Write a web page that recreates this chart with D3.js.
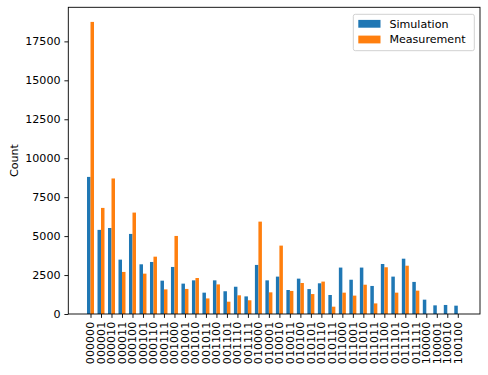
<!DOCTYPE html>
<html>
<head>
  <title>Counts</title>
  <meta charset="utf-8">
  <script src="https://d3js.org/d3.v7.min.js"></script>
  <style>
    body { margin: 0; background: #fff; }
    text { font-family: "DejaVu Sans", sans-serif; }
  </style>
</head>
<body>
  <script>
    const labels = ["000000", "000001", "000010", "000011", "000100", "000101", "000110", "000111",
      "001000", "001001", "001010", "001011", "001100", "001101", "001110", "001111",
      "010000", "010001", "010010", "010011", "010100", "010101", "010110", "010111",
      "011000", "011001", "011010", "011011", "011100", "011101", "011110", "011111",
      "100000", "100001", "100010", "100100"];

    const simulation = [8800, 5400, 5520, 3490, 5140, 3190, 3340, 2140, 3020, 1950, 2160, 1370,
      2160, 1460, 1750, 1130, 3150, 2160, 2400, 1540, 2270, 1600, 1970, 1220,
      2980, 2200, 2980, 1800, 3210, 2400, 3550, 2060, 920, 555, 580, 535];

    const measurement = [18750, 6810, 8700, 2700, 6510, 2590, 3680, 1580, 5010, 1610, 2310, 1000,
      1900, 790, 1200, 880, 5930, 1390, 4390, 1480, 1990, 1280, 2080, 470,
      1370, 1180, 1880, 680, 3000, 1370, 3100, 1500, 0, 0, 0, 0];

    const seriesNames = ["Simulation", "Measurement"];
    const colors = ["#1f77b4", "#ff7f0e"];
    const yTicks = [0, 2500, 5000, 7500, 10000, 12500, 15000, 17500];

    var width = 488, height = 375;
    var margin = {top: 7.3, right: 8, bottom: 61, left: 68.3};
    var fs = 11.1; // 10pt at this scale

    var svg = d3.select("body").append("svg")
      .attr("width", width)
      .attr("height", height);

    // matplotlib style limits: bars from -1/3 to n-1+1/3 plus 5% margin
    var bw = 1 / 3;
    var span = (labels.length - 1) + 2 * bw;
    var x = d3.scaleLinear()
      .domain([-bw - 0.05 * span, labels.length - 1 + bw + 0.05 * span])
      .range([margin.left, width - margin.right]);

    var maxVal = d3.max([d3.max(simulation), d3.max(measurement)]);
    var y = d3.scaleLinear()
      .domain([0, maxVal * 1.05])
      .range([height - margin.bottom, margin.top]);

    var series = [simulation, measurement];

    series.forEach(function(vals, s) {
      svg.append("g")
        .selectAll("rect")
        .data(vals)
        .join("rect")
          .attr("x", (d, i) => x(i - bw + s * bw))
          .attr("width", (d, i) => x(i + s * bw) - x(i - bw + s * bw))
          .attr("y", d => y(d))
          .attr("height", d => y(0) - y(d))
          .attr("fill", colors[s]);
    });

    // x axis
    var xAxis = svg.append("g")
      .attr("transform", `translate(0,${height - margin.bottom})`)
      .call(d3.axisBottom(x)
        .tickValues(d3.range(labels.length))
        .tickFormat(i => labels[i])
        .tickSize(3.9)
        .tickPadding(3.9));
    xAxis.select(".domain").remove();
    xAxis.selectAll(".tick line").attr("stroke", "#000").attr("stroke-width", 0.9);
    xAxis.selectAll(".tick text")
      .attr("fill", "#000")
      .style("font-size", fs + "px")
      .attr("text-anchor", "end")
      .attr("transform", "rotate(-90)")
      .attr("x", -7.8)
      .attr("y", 0)
      .attr("dy", "0.3em");

    // y axis
    var yAxis = svg.append("g")
      .attr("transform", `translate(${margin.left},0)`)
      .call(d3.axisLeft(y)
        .tickValues(yTicks)
        .tickFormat(d3.format("d"))
        .tickSize(3.9)
        .tickPadding(3.9));
    yAxis.select(".domain").remove();
    yAxis.selectAll(".tick line").attr("stroke", "#000").attr("stroke-width", 0.9);
    yAxis.selectAll(".tick text")
      .attr("fill", "#000")
      .style("font-size", fs + "px");

    // frame
    svg.append("rect")
      .attr("x", margin.left)
      .attr("y", margin.top)
      .attr("width", width - margin.right - margin.left)
      .attr("height", height - margin.bottom - margin.top)
      .attr("fill", "none")
      .attr("stroke", "#000")
      .attr("stroke-width", 0.9);

    svg.append("text")
      .attr("transform", `translate(18.2,${(margin.top + height - margin.bottom) / 2}) rotate(-90)`)
      .attr("text-anchor", "middle")
      .style("font-size", fs + "px")
      .text("Count");

    // legend
    var legend = svg.append("g").attr("transform", "translate(353.3,14.3)");
    legend.append("rect")
      .attr("width", 121)
      .attr("height", 36.4)
      .attr("rx", 2)
      .attr("fill", "#fff")
      .attr("fill-opacity", 0.8)
      .attr("stroke", "#ccc")
      .attr("stroke-width", 0.9);

    var item = legend.selectAll(".item")
      .data(seriesNames)
      .join("g")
        .attr("class", "item")
        .attr("transform", (d, i) => `translate(5,${9.5 + i * 15.7})`);
    item.append("rect")
      .attr("y", -3.9)
      .attr("width", 22.2)
      .attr("height", 7.8)
      .attr("fill", (d, i) => colors[i]);
    item.append("text")
      .attr("x", 31.1)
      .attr("dy", "0.35em")
      .style("font-size", fs + "px")
      .text(d => d);
  </script>
</body>
</html>
